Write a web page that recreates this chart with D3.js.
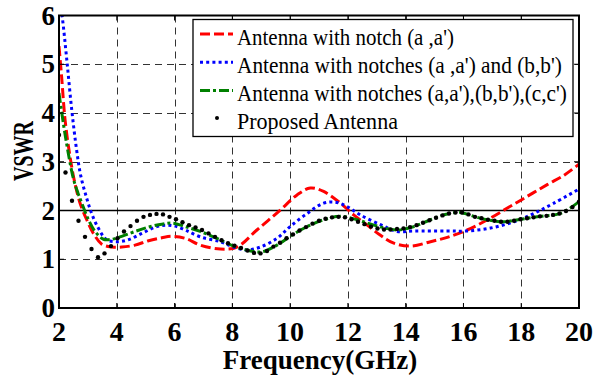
<!DOCTYPE html>
<html>
<head>
<meta charset="utf-8">
<script src="https://cdn.jsdelivr.net/npm/d3@7"></script>
</head>
<body style="margin:0">
<div id="chart"></div>
<script>
// VSWR vs frequency for the notch variants

var xTicks = [2, 4, 6, 8, 10, 12, 14, 16, 18, 20];
var yTicks = [0, 1, 2, 3, 4, 5, 6];

var freqNotchA = [2.0, 2.09, 2.21, 2.38, 2.55, 2.73, 2.96, 3.19, 3.48, 3.83, 4.17, 4.63, 5.1, 5.56, 5.9, 6.37, 6.89, 7.58, 8.16, 8.85, 9.66, 10.24, 10.7, 11.16, 11.74, 12.2, 12.67, 13.13, 13.59, 14.17, 14.86, 15.44, 16.13, 16.83, 17.52, 18.21, 18.9, 19.5, 20];
var vswrNotchA = [5.37, 4.75, 3.86, 3.11, 2.56, 2.15, 1.81, 1.53, 1.31, 1.25, 1.25, 1.29, 1.38, 1.44, 1.47, 1.43, 1.29, 1.21, 1.25, 1.6, 2.01, 2.32, 2.46, 2.39, 2.15, 1.91, 1.70, 1.49, 1.33, 1.27, 1.36, 1.45, 1.6, 1.81, 2.05, 2.29, 2.53, 2.73, 2.95];

var freqNotchAB = [2.0, 2.11, 2.27, 2.44, 2.61, 2.75, 2.96, 3.13, 3.36, 3.65, 4.0, 4.4, 4.87, 5.33, 5.68, 6.02, 6.37, 6.89, 7.58, 8.04, 8.5, 8.97, 9.55, 10.0, 10.59, 11.16, 11.57, 11.97, 12.43, 13.13, 13.7, 14.28, 15.44, 16.13, 16.94, 17.75, 18.44, 19.13, 20];
var vswrNotchAB = [6.4, 5.98, 5.09, 4.07, 3.24, 2.72, 2.25, 1.94, 1.64, 1.40, 1.36, 1.40, 1.53, 1.66, 1.70, 1.68, 1.6, 1.46, 1.36, 1.25, 1.19, 1.25, 1.43, 1.67, 1.94, 2.15, 2.17, 2.08, 1.91, 1.71, 1.57, 1.58, 1.58, 1.58, 1.64, 1.77, 1.94, 2.15, 2.44];

var freqNotchABC = [2.0, 2.15, 2.32, 2.5, 2.65, 2.79, 3.02, 3.25, 3.54, 3.83, 4.17, 4.63, 5.1, 5.56, 5.96, 6.37, 6.89, 7.58, 8.04, 8.73, 9.08, 9.66, 10.0, 10.59, 11.16, 11.74, 12.32, 12.9, 13.7, 14.28, 14.86, 15.44, 15.9, 16.36, 16.83, 17.4, 17.98, 18.67, 19.36, 20];
var vswrNotchABC = [4.41, 3.79, 3.18, 2.65, 2.37, 2.15, 1.81, 1.57, 1.41, 1.41, 1.47, 1.57, 1.66, 1.72, 1.74, 1.67, 1.57, 1.40, 1.27, 1.16, 1.16, 1.33, 1.47, 1.67, 1.81, 1.88, 1.81, 1.70, 1.6, 1.67, 1.81, 1.93, 1.96, 1.88, 1.81, 1.77, 1.82, 1.88, 1.94, 2.18];

// proposed antenna: sweep from 2 to 20 GHz in 0.225 GHz steps
var freqProposed = d3.range(81).map(function(i) { return 2 + i * 0.225; });
var vswrProposed = [3.55, 2.78, 2.2, 1.79, 1.46, 1.21, 1.04, 1.12, 1.27, 1.43,
  1.57, 1.68, 1.79, 1.87, 1.91, 1.93, 1.92, 1.87, 1.82, 1.76,
  1.70, 1.65, 1.60, 1.53, 1.46, 1.39, 1.33, 1.28, 1.23, 1.18,
  1.13, 1.12, 1.17, 1.26, 1.34, 1.43, 1.51, 1.59, 1.66, 1.73,
  1.79, 1.83, 1.86, 1.87, 1.86, 1.82, 1.77, 1.72, 1.67, 1.63,
  1.61, 1.61, 1.62, 1.63, 1.66, 1.70, 1.75, 1.80, 1.85, 1.90,
  1.94, 1.96, 1.96, 1.92, 1.87, 1.84, 1.81, 1.79, 1.77, 1.77,
  1.79, 1.82, 1.84, 1.86, 1.88, 1.89, 1.91, 1.94, 1.99, 2.07, 2.18];

var legendLabels = [
  "Antenna with notch (a ,a')",
  "Antenna with notches (a ,a') and (b,b')",
  "Antenna with notches (a,a'),(b,b'),(c,c')",
  "Proposed Antenna"
];

var W = 596, H = 377;
var plot = {left: 59, right: 579, top: 15.5, bottom: 308};
var serif = "Times New Roman";

var x = d3.scaleLinear().domain([2, 20]).range([plot.left, plot.right]);
var y = d3.scaleLinear().domain([0, 6]).range([plot.bottom, plot.top]);

var svg = d3.select("#chart").append("svg")
  .attr("width", W)
  .attr("height", H)
  .style("font-family", serif);

svg.append("defs").append("clipPath").attr("id", "plotClip")
  .append("rect")
  .attr("x", plot.left).attr("y", plot.top)
  .attr("width", plot.right - plot.left)
  .attr("height", plot.bottom - plot.top);

// squeeze a text horizontally (in its own frame) to a given width
function fitWidth(sel, width, ox, oy, rot) {
  sel.each(function() {
    var natural = this.getComputedTextLength();
    var s = Math.min(1, width / natural);
    d3.select(this).attr("transform",
      "translate(" + ox + "," + oy + ")" + (rot ? " rotate(" + rot + ")" : "") + " scale(" + s + ",1)");
  });
}

// dashed grid
var grid = svg.append("g").attr("class", "grid")
  .attr("stroke", "#333").attr("stroke-width", 1).attr("stroke-dasharray", "7,5");
grid.selectAll(".vgrid")
  .data(xTicks.slice(1, -1))
  .enter().append("line")
  .attr("x1", function(d) { return Math.round(x(d)) + 0.5; })
  .attr("x2", function(d) { return Math.round(x(d)) + 0.5; })
  .attr("y1", plot.top).attr("y2", plot.bottom);
grid.selectAll(".hgrid")
  .data([1, 3, 4, 5])
  .enter().append("line")
  .attr("y1", function(d) { return Math.round(y(d)) + 0.5; })
  .attr("y2", function(d) { return Math.round(y(d)) + 0.5; })
  .attr("x1", plot.left).attr("x2", plot.right);

// VSWR = 2 reference
svg.append("line")
  .attr("x1", plot.left).attr("x2", plot.right)
  .attr("y1", y(2)).attr("y2", y(2))
  .attr("stroke", "#000").attr("stroke-width", 1.6);

var line = d3.line()
  .x(function(d) { return x(d[0]); })
  .y(function(d) { return y(d[1]); })
  .curve(d3.curveCatmullRom.alpha(0.5));

var curves = svg.append("g").attr("clip-path", "url(#plotClip)");

var series = [
  {f: freqNotchA, v: vswrNotchA, color: "#ff0000", dash: "10,4"},
  {f: freqNotchAB, v: vswrNotchAB, color: "#0000ff", dash: "3,3.2"},
  {f: freqNotchABC, v: vswrNotchABC, color: "#008000", dash: "10,3,3,3"}
];

curves.selectAll(".curve")
  .data(series)
  .enter().append("path")
  .attr("class", "curve")
  .attr("d", function(s) { return line(d3.zip(s.f, s.v)); })
  .attr("fill", "none")
  .attr("stroke", function(s) { return s.color; })
  .attr("stroke-width", 3)
  .attr("stroke-dasharray", function(s) { return s.dash; });

curves.selectAll(".dot")
  .data(d3.zip(freqProposed, vswrProposed))
  .enter().append("circle")
  .attr("class", "dot")
  .attr("cx", function(d) { return x(d[0]); })
  .attr("cy", function(d) { return y(d[1]); })
  .attr("r", 2.2)
  .attr("fill", "#000");

// frame with inward ticks
var frame = svg.append("g").attr("stroke", "#000").attr("stroke-width", 2);
frame.append("rect")
  .attr("x", plot.left).attr("y", plot.top)
  .attr("width", plot.right - plot.left)
  .attr("height", plot.bottom - plot.top)
  .attr("fill", "none");
frame.selectAll(".xt")
  .data(xTicks.slice(1, -1))
  .enter().append("path")
  .attr("d", function(d) {
    return "M" + x(d) + "," + plot.bottom + "v-5M" + x(d) + "," + plot.top + "v5";
  })
  .attr("stroke-width", 1);
frame.selectAll(".yt")
  .data(yTicks.slice(1, -1))
  .enter().append("path")
  .attr("d", function(d) {
    return "M" + plot.left + "," + y(d) + "h5M" + plot.right + "," + y(d) + "h-5";
  })
  .attr("stroke-width", 1);

// tick labels
svg.append("g").selectAll("text")
  .data(xTicks)
  .enter().append("text")
  .attr("x", function(d) { return x(d); })
  .attr("y", 341)
  .attr("text-anchor", "middle")
  .attr("font-weight", "bold")
  .attr("font-size", 28)
  .text(function(d) { return d; });

svg.append("g").selectAll("text")
  .data(yTicks)
  .enter().append("text")
  .attr("x", 55)
  .attr("y", function(d) { return y(d) + 9; })
  .attr("text-anchor", "end")
  .attr("font-weight", "bold")
  .attr("font-size", 27)
  .text(function(d) { return d; });

// axis titles
svg.append("text")
  .attr("text-anchor", "middle")
  .attr("font-weight", "bold")
  .attr("font-size", 27)
  .text("Frequency(GHz)")
  .call(fitWidth, 200, 320, 369);

svg.append("text")
  .attr("text-anchor", "middle")
  .attr("font-weight", "bold")
  .attr("font-size", 29)
  .text("VSWR")
  .call(fitWidth, 60, 33, 151, -90);

// legend
var legend = svg.append("g").attr("class", "legend");
legend.append("rect")
  .attr("x", 193).attr("y", 19.5)
  .attr("width", 380).attr("height", 117)
  .attr("fill", "#fff").attr("stroke", "#000").attr("stroke-width", 1.3);

var legendWidths = [217, 325, 330, 161];
var rowY = function(i) { return 34 + i * 28.3; };

legend.selectAll(".entry-line")
  .data(series)
  .enter().append("line")
  .attr("x1", 200).attr("x2", 233)
  .attr("y1", function(s, i) { return rowY(i); })
  .attr("y2", function(s, i) { return rowY(i); })
  .attr("stroke", function(s) { return s.color; })
  .attr("stroke-width", 3)
  .attr("stroke-dasharray", function(s) { return s.dash; });

legend.append("circle")
  .attr("cx", 217).attr("cy", rowY(3) - 1)
  .attr("r", 2)
  .attr("fill", "#000");

legend.selectAll(".entry-text")
  .data(legendLabels)
  .enter().append("text")
  .attr("class", "entry-text")
  .attr("font-size", 24)
  .text(function(d) { return d; })
  .each(function(d, i) {
    d3.select(this).call(fitWidth, legendWidths[i], 237, rowY(i) + 10.5);
  });
</script>
</body>
</html>
